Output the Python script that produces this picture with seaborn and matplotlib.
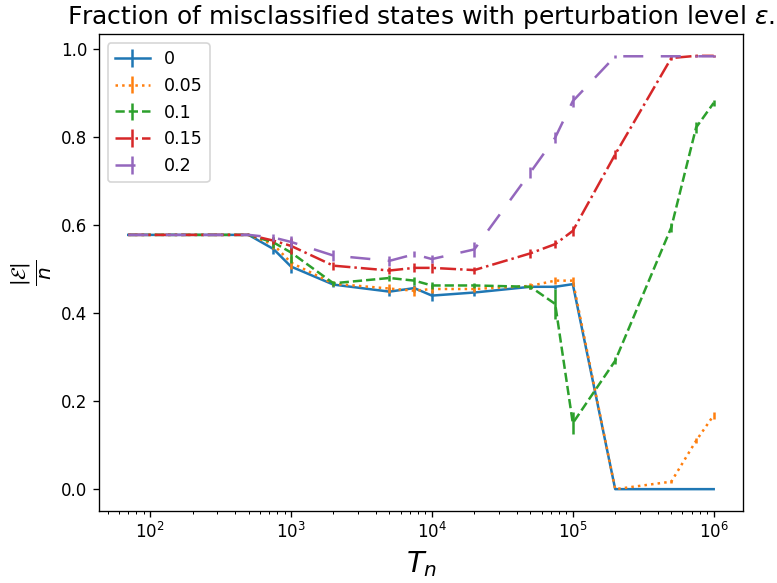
import matplotlib
matplotlib.use("Agg")
import matplotlib.pyplot as plt
import seaborn as sns
import numpy as np
from matplotlib.legend_handler import HandlerTuple

# ---- data ----
t_n = [70, 500, 750, 1000, 2000, 5000, 7500, 10000, 20000, 50000, 75000,
       100000, 200000, 500000, 750000, 1000000]

eps_labels = ["0", "0.05", "0.1", "0.15", "0.2"]

frac_0 = [0.578, 0.578, 0.546, 0.506, 0.465, 0.449, 0.457, 0.440, 0.447, 0.460,
          0.460, 0.466, 0.0, 0.0, 0.0, 0.0]
err_0 = [0, 0, 0.011, 0.015, 0.006, 0.010, 0.008, 0.013, 0.008, 0.005,
         0.005, 0.005, 0, 0, 0, 0]

frac_005 = [0.578, 0.578, 0.556, 0.515, 0.467, 0.456, 0.451, 0.455, 0.455, 0.462,
            0.474, 0.474, 0.0, 0.017, 0.11, 0.168]
err_005 = [0, 0, 0.010, 0.015, 0.006, 0.010, 0.011, 0.008, 0.006, 0.006,
           0.008, 0.008, 0, 0.004, 0.006, 0.008]

frac_01 = [0.578, 0.578, 0.561, 0.538, 0.468, 0.480, 0.474, 0.463, 0.463, 0.460,
           0.421, 0.150, 0.292, 0.595, 0.822, 0.878]
err_01 = [0, 0, 0.013, 0.023, 0.006, 0.006, 0.009, 0.008, 0.006, 0.005,
          0.034, 0.025, 0.008, 0.010, 0.012, 0.006]

frac_015 = [0.578, 0.578, 0.565, 0.553, 0.508, 0.497, 0.503, 0.503, 0.498, 0.536,
            0.557, 0.587, 0.761, 0.980, 0.985, 0.985]
err_015 = [0, 0, 0.008, 0.019, 0.009, 0.008, 0.010, 0.011, 0.008, 0.011,
           0.009, 0.011, 0.010, 0.005, 0.003, 0.003]

frac_02 = [0.578, 0.578, 0.572, 0.562, 0.531, 0.519, 0.534, 0.523, 0.545, 0.720,
           0.799, 0.882, 0.984, 0.984, 0.984, 0.984]
err_02 = [0, 0, 0.009, 0.013, 0.013, 0.011, 0.007, 0.010, 0.017, 0.012,
          0.012, 0.013, 0.003, 0.002, 0.002, 0.002]

series = [frac_0, frac_005, frac_01, frac_015, frac_02]
errors = [err_0, err_005, err_01, err_015, err_02]

# ---- styles ----
colors = sns.color_palette("tab10")[:5]
linestyles = ["-", (0, (1, 1.65)), (0, (3.7, 1.6)), (0, (6.4, 1.6, 1, 1.6)), (0, (8, 7))]

dpi = 120
fig = plt.figure(figsize=(777 / dpi, 583 / dpi), dpi=dpi)
ax = fig.add_subplot(111)
fig.subplots_adjust(left=0.1274, right=0.9562, bottom=0.124, top=0.9412)
ax.set_xscale("log")

handles = []
for y, e, c, ls in zip(series, errors, colors, linestyles):
    sns.lineplot(x=t_n, y=y, color=c, linestyle=ls, linewidth=1.5,
                 errorbar=None, ax=ax, legend=False)
    line = ax.lines[-1]
    eb = ax.errorbar(t_n, y, yerr=e, fmt="none", ecolor=c, elinewidth=1.5)
    handles.append((line, eb))

# log-axis limits with the usual 5% margin around the data range
lo, hi = np.log10(min(t_n)), np.log10(max(t_n))
pad = 0.05 * (hi - lo)
ax.set_xlim(10 ** (lo - pad), 10 ** (hi + pad))
ax.set_ylim(-0.049, 1.034)

ax.set_title(r"Fraction of misclassified states with perturbation level $\varepsilon$.",
             fontsize=15)
ax.set_xlabel(r"$T_n$", fontsize=17.28)
ax.set_ylabel(r"$\frac{|\mathcal{E}|}{n}$", fontsize=17.28)
ax.legend(handles, eps_labels, loc="upper left", fontsize=10.5,
          handler_map={tuple: HandlerTuple(ndivide=1)})

fig.savefig("out.png", dpi=dpi)
